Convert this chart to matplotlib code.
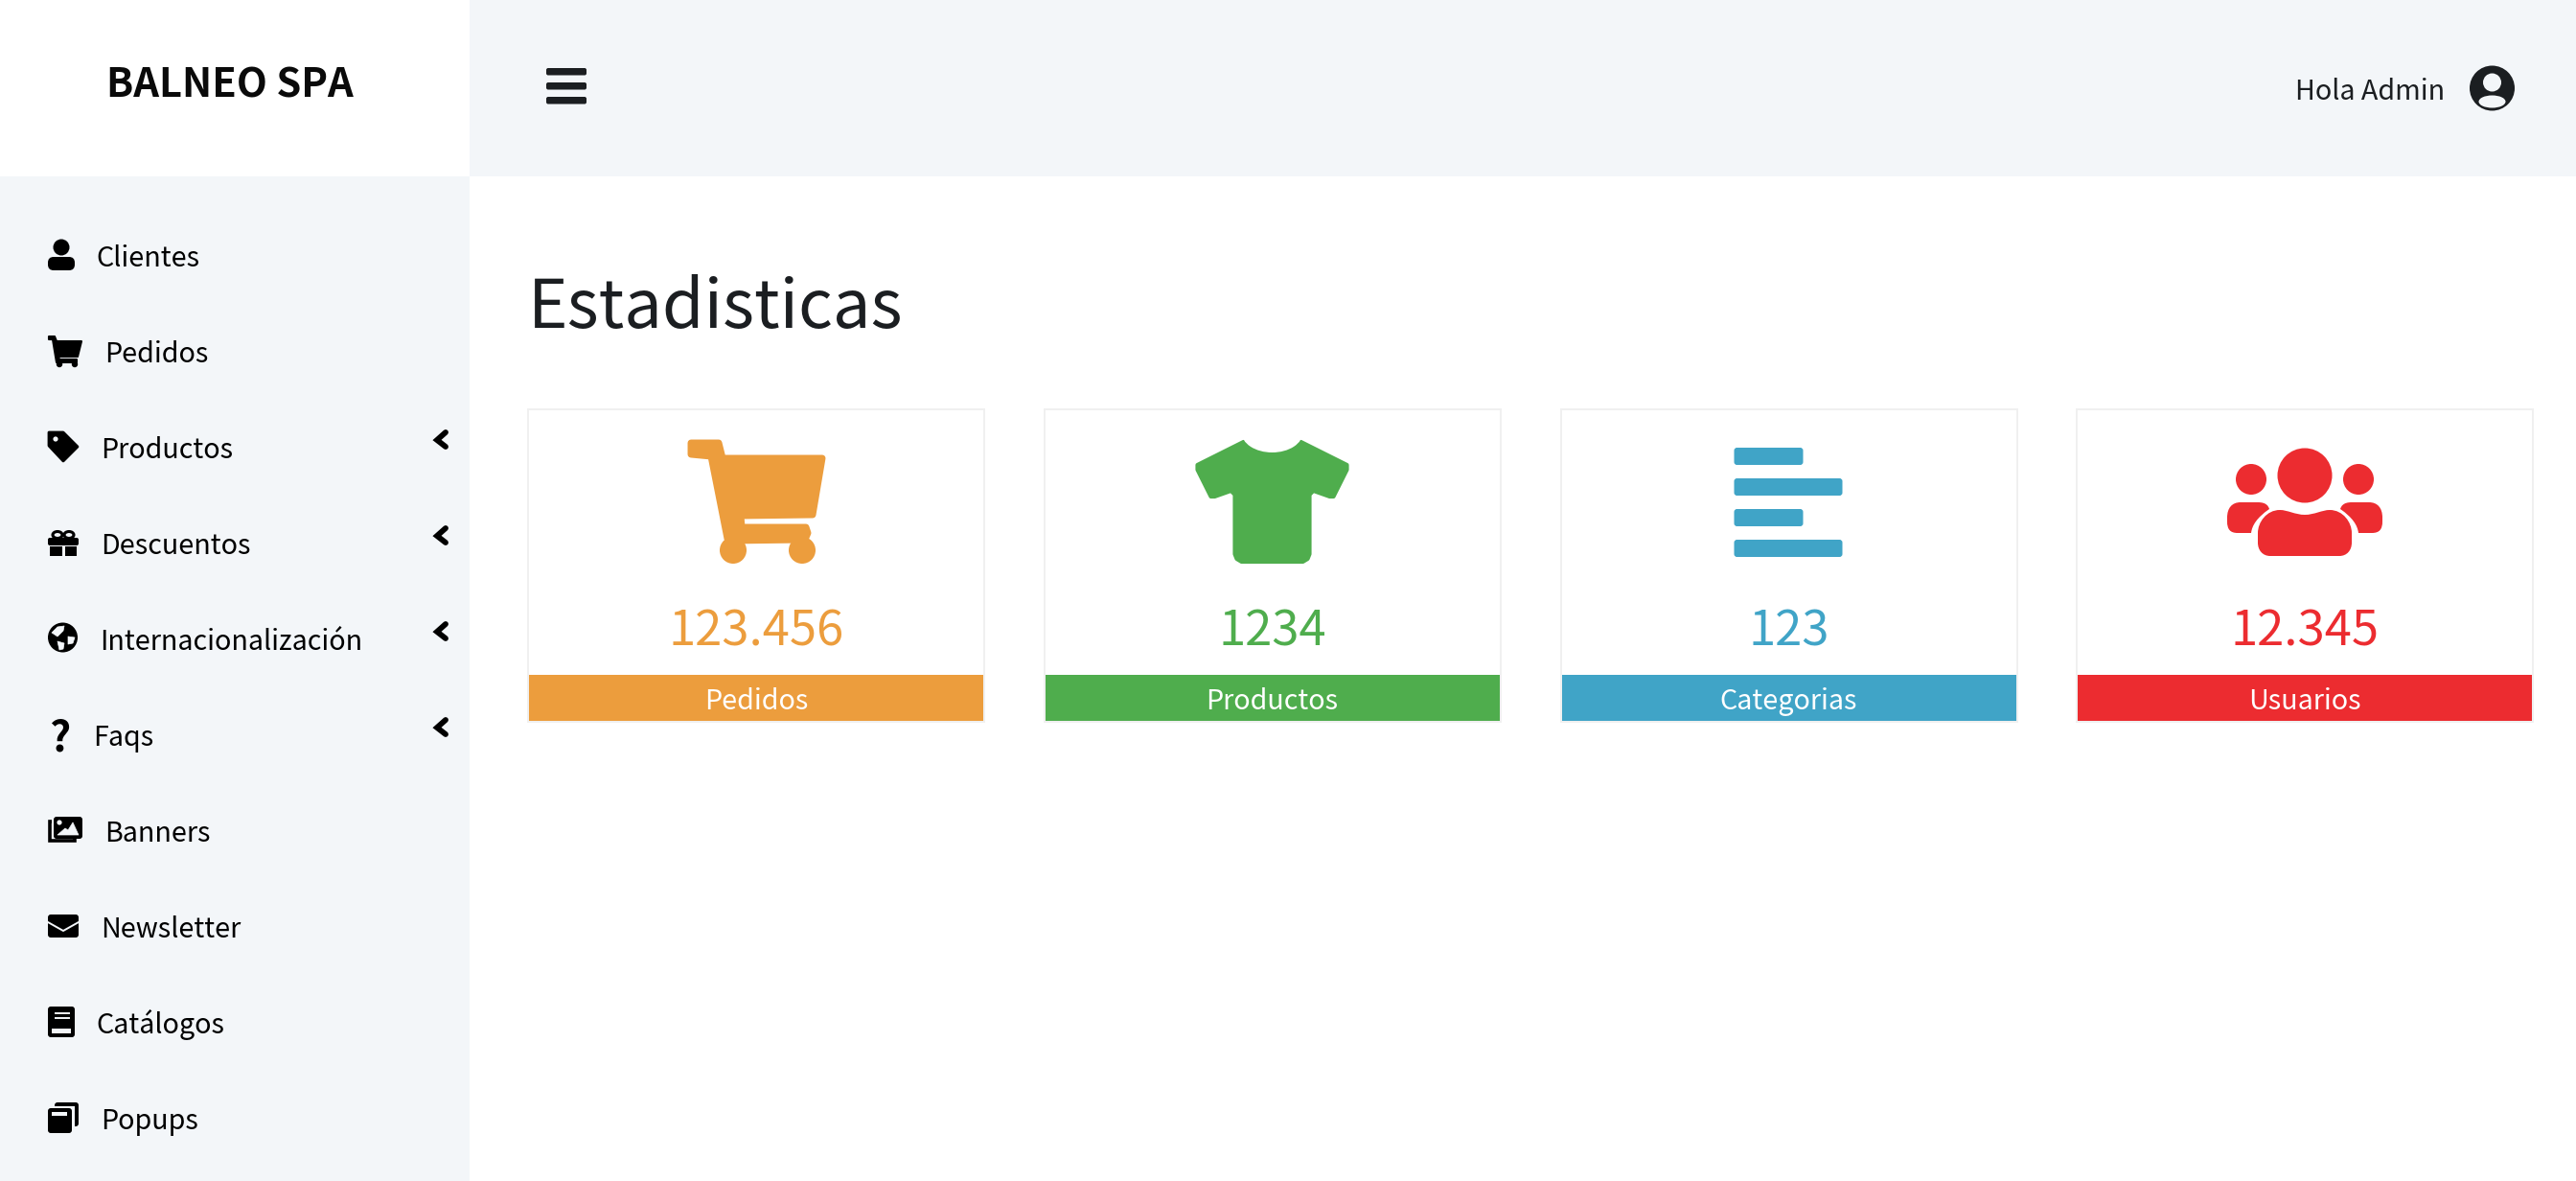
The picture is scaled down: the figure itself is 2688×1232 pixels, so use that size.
#!/usr/bin/env python3
"""
Admin dashboard screenshot: sidebar, header and four statistic cards.
Drawn on one full-figure axes whose units are image pixels.
"""
import numpy as np
import matplotlib
matplotlib.use('Agg')
import matplotlib.pyplot as plt
from matplotlib.patches import Circle, Ellipse, FancyBboxPatch, PathPatch, Polygon, Rectangle
from matplotlib.path import Path

# data
nav_labels = ['Clientes', 'Pedidos', 'Productos', 'Descuentos', 'Internacionalización',
              'Faqs', 'Banners', 'Newsletter', 'Catálogos', 'Popups']
nav_has_arrow = [False, False, True, True, True, True, False, False, False, False]
card_labels = ['Pedidos', 'Productos', 'Categorias', 'Usuarios']
card_values = ['123.456', '1234', '123', '12.345']
card_colors = ['#ec9d3d', '#4fad4d', '#40a4c7', '#ec2c30']

# layout, in pixels
nav_text_x = [100, 109, 105, 105, 104, 97, 109, 105, 100, 105]
card_left = [550, 1088.5, 1627.5, 2166]
CARD_W = 478
SIDE = '#f3f6f9'
INK = '#000000'
DARK = '#1b1e21'

plt.rcParams['font.family'] = ['Noto Sans CJK JP', 'DejaVu Sans']

fig = plt.figure(figsize=(26.88, 12.32), dpi=100)
ax = fig.add_axes([0, 0, 1, 1])
ax.set_xlim(0, 2688)
ax.set_ylim(1232, 0)
ax.axis('off')


def poly(points, color, lw=3.0, dx=0, dy=0):
    pts = np.array(points, dtype=float) + [dx, dy]
    ax.add_patch(Polygon(pts, closed=True, facecolor=color, edgecolor=color,
                         linewidth=lw, joinstyle='round'))


def round_box(x, y, w, h, color, r=3):
    ax.add_patch(FancyBboxPatch((x + r, y + r), w - 2 * r, h - 2 * r,
                                boxstyle=f'round,pad={r},rounding_size={r}',
                                facecolor=color, edgecolor='none'))


def curve(verts, color, edge=None, lw=0):
    # verts: start point, then line points (len 1) or bezier triples (len 3)
    v = [verts[0]]
    c = [Path.MOVETO]
    for seg in verts[1:]:
        if len(seg) == 3:
            v += list(seg)
            c += [Path.CURVE4] * 3
        else:
            v.append(seg[0])
            c.append(Path.LINETO)
    v.append(verts[0])
    c.append(Path.CLOSEPOLY)
    ax.add_patch(PathPatch(Path(v, c), facecolor=color, edgecolor=edge or 'none', linewidth=lw))


# big card icons, cx is the card centre
def big_cart(cx, color):
    poly([(-68, 462), (-39, 462), (-35, 478), (69, 478), (59, 537), (-16, 538), (-15, 550),
          (52, 550), (54, 556), (51, 563), (-26, 564), (-30, 562), (-47, 476), (-68, 474)],
         color, lw=5, dx=cx)
    ax.add_patch(Circle((cx - 24, 574), 14, color=color, lw=0))
    ax.add_patch(Circle((cx + 48, 574), 14, color=color, lw=0))


def big_shirt(cx, color):
    poly([(-30, 461), (30, 461), (78, 485), (78, 490), (64, 518), (60, 518), (43, 512), (39, 516),
          (39, 578), (37, 583), (32, 586), (-32, 586), (-37, 583), (-39, 578), (-39, 516),
          (-43, 512), (-60, 518), (-64, 518), (-78, 490), (-78, 485)], color, dx=cx)
    ax.add_patch(Ellipse((cx, 451), 64, 42, color='white', lw=0))


def big_lines(cx, color):
    left = cx - 57
    for y, w in zip([467, 499, 531, 563], [72, 113, 72, 113]):
        round_box(left, y, w, 18, color)


def big_users(cx, color):
    ax.add_patch(Ellipse((cx, 496), 57, 57, color=color, lw=0))
    for sign in (-1, 1):
        ax.add_patch(Ellipse((cx + sign * 56, 500), 32, 32, color=color, lw=0))
        pts = [(cx + sign * 67, 524),
               ((cx + sign * 49, 524),),
               ((cx + sign * 40, 524), (cx + sign * 38, 528), (cx + sign * 37, 531)),
               ((cx + sign * 50, 540), (cx + sign * 55, 548), (cx + sign * 56, 556)),
               ((cx + sign * 70, 556),),
               ((cx + sign * 78, 556), (cx + sign * 81, 552), (cx + sign * 81, 544)),
               ((cx + sign * 81, 540),),
               ((cx + sign * 81, 530), (cx + sign * 76, 524), (cx + sign * 67, 524))]
        curve(pts, color)
    curve([(cx - 36, 580),
           ((cx - 44, 580), (cx - 49, 574), (cx - 49, 566)),
           ((cx - 49, 556),),
           ((cx - 49, 545), (cx - 40, 532), (cx - 26, 532)),
           ((cx - 18, 532), (cx - 10, 537), (cx, 537)),
           ((cx + 10, 537), (cx + 18, 532), (cx + 26, 532)),
           ((cx + 40, 532), (cx + 49, 545), (cx + 49, 556)),
           ((cx + 49, 566),),
           ((cx + 49, 574), (cx + 44, 580), (cx + 36, 580))], color)


# small sidebar icons, y is the row centre
def ic_person(y):
    ax.add_patch(Circle((64, y - 9), 8.5, color=INK, lw=0))
    round_box(50, y + 1, 28, 14, INK, r=6)


def ic_cart(y):
    poly([(51, y - 16), (57, y - 16), (59, y - 11), (85, y - 11), (81, y + 5), (61, y + 5),
          (62, y + 8), (80, y + 8), (80, y + 11), (59, y + 11), (55, y - 13), (51, y - 13)],
         INK, lw=1.5)
    ax.add_patch(Circle((62, y + 13), 3.2, color=INK, lw=0))
    ax.add_patch(Circle((78, y + 13), 3.2, color=INK, lw=0))


def ic_tag(y):
    poly([(51, y - 16), (66, y - 16), (81, y - 1), (66, y + 14), (51, y - 2)], INK, lw=2)
    ax.add_patch(Circle((58, y - 9), 2.6, color=SIDE, lw=0))


def ic_gift(y):
    round_box(50, y - 6, 32, 8, INK, r=2)
    ax.add_patch(Rectangle((52, y + 3), 12.5, 10, color=INK, lw=0))
    ax.add_patch(Rectangle((67.5, y + 3), 12.5, 10, color=INK, lw=0))
    ax.add_patch(Ellipse((60, y - 9), 10, 7, facecolor='none', edgecolor=INK, lw=2.2))
    ax.add_patch(Ellipse((72, y - 9), 10, 7, facecolor='none', edgecolor=INK, lw=2.2))


def ic_globe(y):
    ax.add_patch(Circle((65.5, y - 2), 15.5, color=INK, lw=0))
    poly([(60, y - 13), (67, y - 14), (66, y - 9), (60, y - 3), (54, y - 7)], SIDE, lw=0.5)
    poly([(71, y - 3), (78, y - 2), (76, y + 4), (71, y + 5)], SIDE, lw=0.5)
    poly([(60, y + 2), (67, y + 4), (66, y + 10), (62, y + 11)], SIDE, lw=0.5)


def ic_images(y):
    ax.add_patch(Rectangle((52, y - 10), 26, 20, facecolor='none', edgecolor=INK, lw=2.6))
    ax.add_patch(Rectangle((54, y - 14), 34, 20, color=SIDE, lw=0))
    round_box(56, y - 15, 30, 23, INK, r=3)
    poly([(60, y + 4), (68, y - 3), (71, y - 1), (76, y - 9), (82, y + 4)], SIDE, lw=0.5)
    ax.add_patch(Circle((62, y - 9), 2.6, color=SIDE, lw=0))


def ic_mail(y):
    round_box(50, y - 13, 32, 24, INK, r=3)
    ax.plot([50, 66, 82], [y - 5, y + 4, y - 5], color=SIDE, lw=1.4)


def ic_book(y):
    round_box(50, y - 17, 28, 32, INK, r=3)
    ax.add_patch(Rectangle((54, y + 6), 20, 5, color=SIDE, lw=0))
    ax.plot([58, 72], [y - 10, y - 10], color=SIDE, lw=1.4)
    ax.plot([58, 72], [y - 5, y - 5], color=SIDE, lw=1.4)


def ic_copy(y):
    round_box(57, y - 17, 25, 25, INK, r=3)
    ax.add_patch(Rectangle((55, y - 13), 23, 23, color=SIDE, lw=0))
    round_box(50, y - 11, 25, 26, INK, r=3)
    ax.add_patch(Rectangle((54, y - 7), 16, 4, color=SIDE, lw=0))


nav_icons = [ic_person, ic_cart, ic_tag, ic_gift, ic_globe, None, ic_images, ic_mail, ic_book, ic_copy]
big_icons = [big_cart, big_shirt, big_lines, big_users]

# background blocks
ax.add_patch(Rectangle((490, 0), 2198, 184, color=SIDE, lw=0))
ax.add_patch(Rectangle((0, 184), 490, 1048, color=SIDE, lw=0))

# header
ax.text(240, 102, 'BALNEO SPA', fontsize=30, fontweight='bold', color='#0a0a0a', ha='center', va='baseline')
for y in (71, 86, 101):
    round_box(570, y, 42, 7.5, DARK, r=2)
ax.text(2395, 104, 'Hola Admin', fontsize=20.7, color=DARK, ha='left', va='baseline')
ax.add_patch(Circle((2600.5, 92), 23.5, color=DARK, lw=0))
ax.add_patch(Circle((2600.5, 86), 9.5, color=SIDE, lw=0))
ax.add_patch(Ellipse((2600.5, 106), 28, 13, color=SIDE, lw=0))

# sidebar
for i, label in enumerate(nav_labels):
    yc = 267 + 100 * i
    if nav_icons[i] is not None:
        nav_icons[i](yc)
    else:
        ax.text(51, yc + 16, '?', fontsize=31, fontweight='bold', color=INK, ha='left', va='baseline')
    ax.text(nav_text_x[i], yc + 11, label, fontsize=20.7, color=INK, ha='left', va='baseline')
    if nav_has_arrow[i]:
        ax.plot([465, 456, 465], [yc - 16, yc - 8, yc - 1], color=INK, lw=4.2,
                solid_joinstyle='miter', solid_capstyle='round')

# page title
ax.text(551, 342, 'Estadisticas', fontsize=50.8, color=DARK, ha='left', va='baseline')

# cards
for left, label, value, color, icon in zip(card_left, card_labels, card_values, card_colors, big_icons):
    cx = left + CARD_W / 2
    ax.add_patch(Rectangle((left + 1, 427), CARD_W - 2, 326, facecolor='white', edgecolor='#f0f0f0', lw=1.44))
    ax.add_patch(Rectangle((left + 2, 704), CARD_W - 4, 48, color=color, lw=0))
    icon(cx, color)
    ax.text(cx, 673, value, fontsize=36.5, color=color, ha='center', va='baseline')
    ax.text(cx, 740, label, fontsize=20.7, color='white', ha='center', va='baseline')

fig.savefig('out.png', dpi=100, facecolor='white')
